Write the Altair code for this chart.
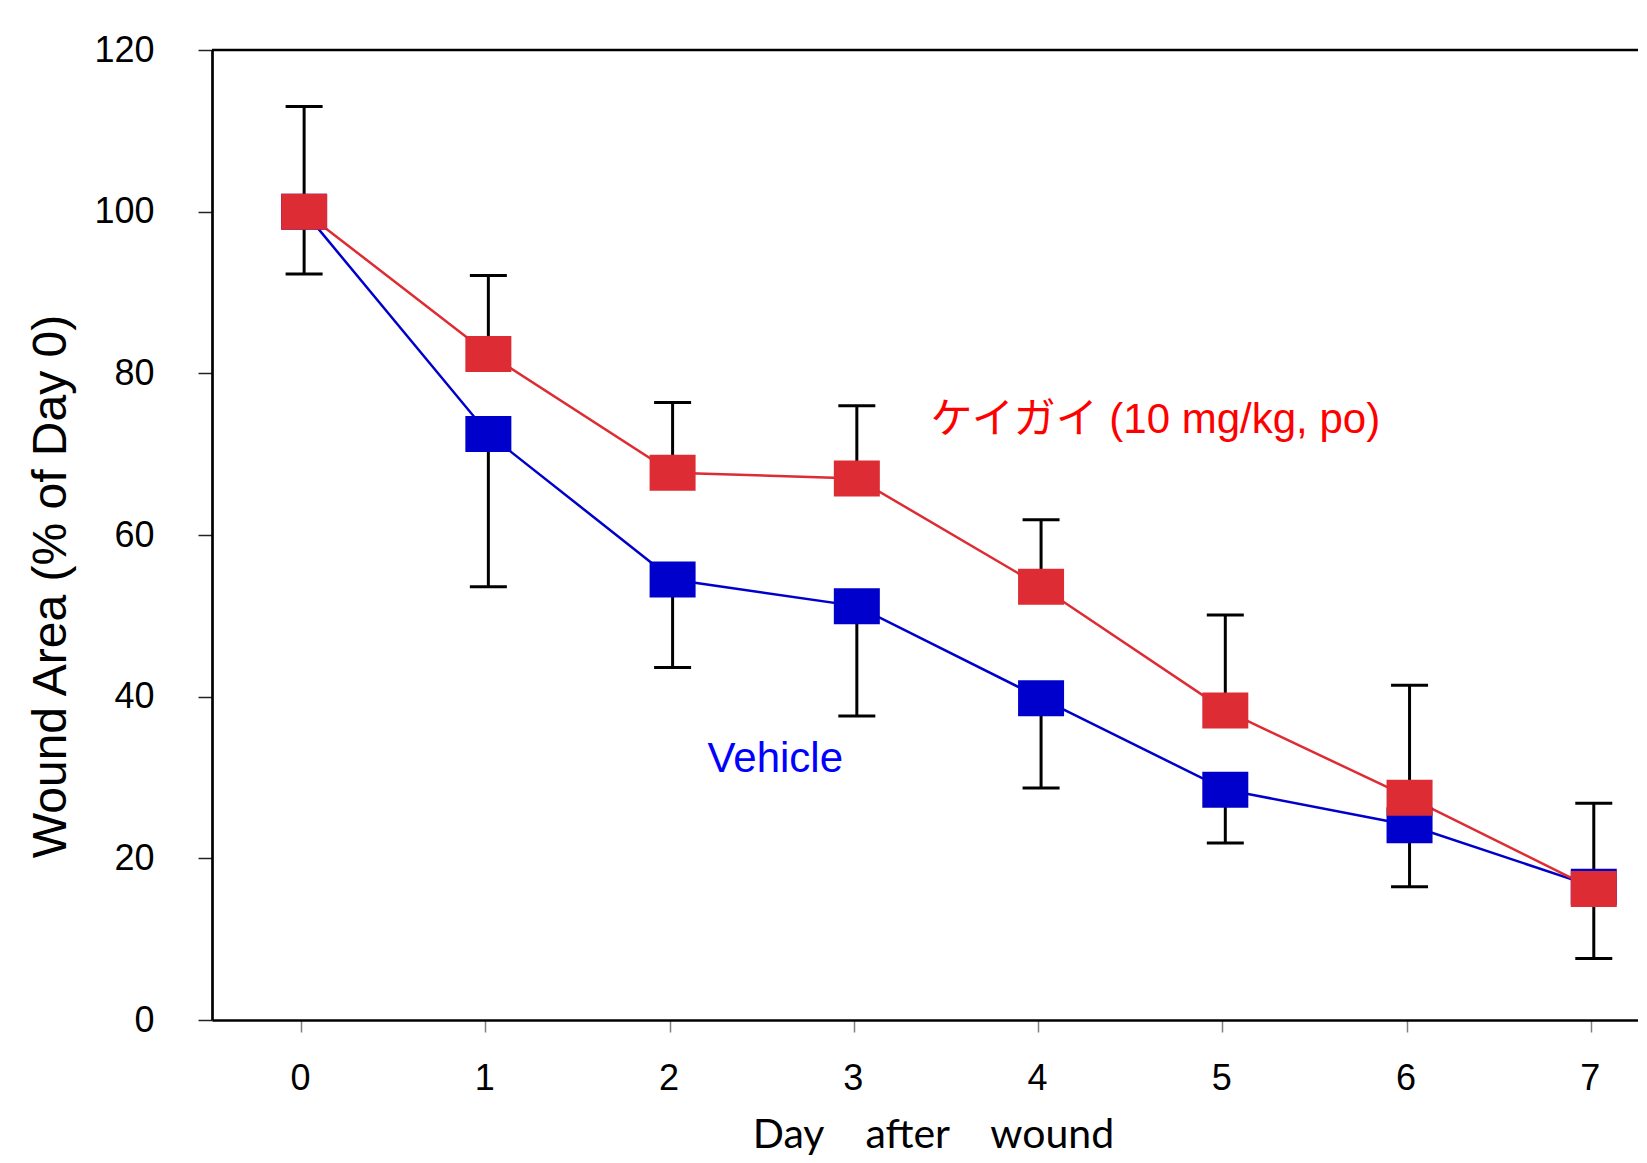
import altair as alt
import pandas as pd

# ---- data ----
days = [0, 1, 2, 3, 4, 5, 6, 7]
keigai_mean = [100.0, 82.4, 67.7, 67.0, 53.6, 38.3, 27.5, 16.2]
keigai_upper = [113.0, 92.1, 76.4, 76.0, 61.9, 50.1, 41.4, 26.8]
vehicle_mean = [100.0, 72.5, 54.5, 51.2, 39.8, 28.5, 24.1, 16.5]
vehicle_lower = [92.3, 53.6, 43.6, 37.6, 28.7, 21.9, 16.5, 7.6]

x_ticks = [0, 1, 2, 3, 4, 5, 6, 7]
y_ticks = [0, 20, 40, 60, 80, 100, 120]

label_keigai = "ケイガイ (10 mg/kg, po)"
label_vehicle = "Vehicle"
label_keigai_pos = [3.40, 72.6]
label_vehicle_pos = [2.19, 30.7]

x_title = "Day\u00a0\u00a0\u00a0\u00a0after\u00a0\u00a0\u00a0\u00a0wound"
y_title = "Wound Area (% of Day 0)"

# ---- styling ----
RED = "#DD2C33"
BLUE = "#0000CC"
FONT = "Liberation Sans, Arial, Noto Sans CJK JP"
RECT = "M-1,-0.7826L1,-0.7826L1,0.7826L-1,0.7826Z"

veh = pd.DataFrame({"day": days, "mean": vehicle_mean, "err": vehicle_lower})
kei = pd.DataFrame({"day": days, "mean": keigai_mean, "err": keigai_upper})
lab_k = pd.DataFrame({"lx": [label_keigai_pos[0]], "ly": [label_keigai_pos[1]], "t": [label_keigai]})
lab_v = pd.DataFrame({"lx": [label_vehicle_pos[0]], "ly": [label_vehicle_pos[1]], "t": [label_vehicle]})

xscale = alt.Scale(domain=[-0.5, 7.24], nice=False, zero=False)
yscale = alt.Scale(domain=[0, 120], nice=False, zero=False)

xaxis = alt.Axis(
    values=x_ticks, format="d", title=x_title,
    domain=True, domainColor="black", domainWidth=2.7,
    ticks=True, tickColor="#808080", tickWidth=1.5, tickSize=12, tickOffset=-3,
    labelFont=FONT, labelFontSize=36, labelColor="black", labelPadding=29,
    labelBaseline="top", labelOffset=-1,
    titleFont="Lato", titleFontSize=41, titleFontWeight="normal", titleColor="black",
    titleX=721, titleY=127, titleAlign="center", titleBaseline="alphabetic",
    grid=False,
)
yaxis = alt.Axis(
    values=y_ticks, format="d", title=y_title,
    domain=True, domainColor="black", domainWidth=2.7,
    ticks=True, tickColor="#222222", tickWidth=1.5, tickSize=14,
    labelFont=FONT, labelFontSize=36, labelColor="black", labelPadding=44,
    titleFont=FONT, titleFontSize=48, titleFontWeight="normal", titleColor="black",
    titleAngle=270, titleX=-147, titleY=536, titleAlign="center", titleBaseline="alphabetic",
    grid=False,
)


def X(field):
    return alt.X(field, type="quantitative", scale=xscale, axis=xaxis)


def Y(field):
    return alt.Y(field, type="quantitative", scale=yscale, axis=yaxis)


line_v = alt.Chart(veh).mark_line(color=BLUE, strokeWidth=2.5).encode(x=X("day"), y=Y("mean"))
line_k = alt.Chart(kei).mark_line(color=RED, strokeWidth=2.5).encode(x=X("day"), y=Y("mean"))

err_v = alt.Chart(veh).mark_rule(color="black", strokeWidth=3).encode(
    x=X("day"), y=Y("mean"), y2="err:Q")
err_k = alt.Chart(kei).mark_rule(color="black", strokeWidth=3).encode(
    x=X("day"), y=Y("mean"), y2="err:Q")
cap_v = alt.Chart(veh).mark_tick(color="black", orient="horizontal", size=37, thickness=3, opacity=1).encode(
    x=X("day"), y=Y("err"))
cap_k = alt.Chart(kei).mark_tick(color="black", orient="horizontal", size=37, thickness=3, opacity=1).encode(
    x=X("day"), y=Y("err"))

pts_v = alt.Chart(veh).mark_point(shape=RECT, size=2116, filled=True, color=BLUE, opacity=1,
                                  strokeWidth=0).encode(x=X("day"), y=Y("mean"))
pts_k = alt.Chart(kei).mark_point(shape=RECT, size=2116, filled=True, color=RED, opacity=1,
                                  strokeWidth=0).encode(x=X("day"), y=Y("mean"))

txt_k = alt.Chart(lab_k).mark_text(align="left", baseline="alphabetic", font=FONT, fontSize=42,
                                   color="#FF0000").encode(x=X("lx"), y=Y("ly"), text="t:N")
txt_v = alt.Chart(lab_v).mark_text(align="left", baseline="alphabetic", font=FONT, fontSize=42,
                                   color="#0000FF").encode(x=X("lx"), y=Y("ly"), text="t:N")

top_line = alt.Chart(pd.DataFrame({"a": [0]})).mark_rule(color="black", strokeWidth=2.7).encode(
    x=alt.value(0), x2=alt.value(1600), y=alt.value(0))

chart = alt.layer(
    line_v, line_k, err_v, err_k, cap_v, cap_k, pts_v, pts_k, txt_k, txt_v, top_line
).properties(
    width=1426, height=970,
    autosize=alt.AutoSizeParams(type="none"),
    padding={"left": 204, "top": 42, "right": 0, "bottom": 135},
    background="white",
).configure_view(strokeWidth=0)

chart.save("out.html", embed_options={"renderer": "svg", "actions": False})
